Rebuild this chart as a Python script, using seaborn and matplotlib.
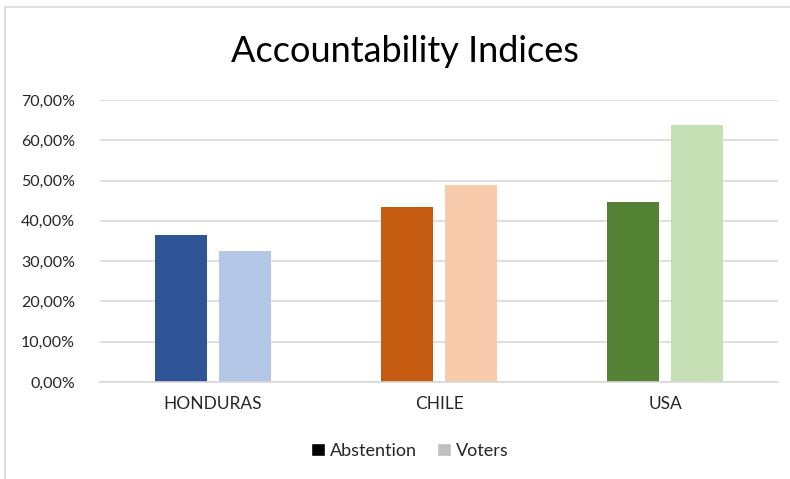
import pandas as pd
import matplotlib
matplotlib.use("Agg")
import matplotlib.pyplot as plt
from matplotlib.patches import Patch, Rectangle
from matplotlib.ticker import FuncFormatter, MultipleLocator
import seaborn as sns

# data
countries = ["HONDURAS", "CHILE", "USA"]
abstention = [0.364, 0.435, 0.446]
voters = [0.325, 0.489, 0.638]
series = ["Abstention", "Voters"]

# bar colours per country (dark = abstention, light = voters)
dark_colors = ["#2F5597", "#C55A11", "#548235"]
light_colors = ["#B4C7E7", "#F8CBAD", "#C5E0B4"]

df = pd.DataFrame({
    "country": countries * 2,
    "value": abstention + voters,
    "series": [series[0]] * 3 + [series[1]] * 3,
})

sns.set_style("white")
plt.rcParams["font.family"] = ["Lato", "DejaVu Sans"]

fig = plt.figure(figsize=(7.9, 4.79), dpi=100)
ax = fig.add_axes([100 / 790, 1 - 382 / 479, 678 / 790, 282 / 479])

sns.barplot(data=df, x="country", y="value", hue="series", hue_order=series,
            width=0.57, gap=0.19, legend=False, ax=ax)

# recolour each bar
for bar, c in zip(ax.containers[0], dark_colors):
    bar.set_facecolor(c)
    bar.set_edgecolor("none")
for bar, c in zip(ax.containers[1], light_colors):
    bar.set_facecolor(c)
    bar.set_edgecolor("none")

ax.set_ylim(0, 0.7)
ax.set_xlim(-0.5, 2.5)
ax.yaxis.set_major_locator(MultipleLocator(0.1))
ax.yaxis.set_major_formatter(FuncFormatter(lambda v, p: f"{v*100:.2f}%".replace(".", ",")))
ax.grid(axis="y", color="#D9D9D9", linewidth=1.2)
ax.set_axisbelow(True)
for s in ["top", "right", "left"]:
    ax.spines[s].set_visible(False)
ax.spines["bottom"].set_color("#D9D9D9")
ax.spines["bottom"].set_linewidth(1.2)
ax.tick_params(axis="both", length=0, labelsize=11.5, colors="#262626")
ax.tick_params(axis="x", labelsize=12.5, pad=10)
ax.tick_params(axis="y", pad=18)
ax.set_xlabel("")
ax.set_ylabel("")

fig.suptitle("Accountability Indices", x=405 / 790, y=1 - 51 / 479, va="center",
             fontsize=26, color="black")

handles = [Patch(facecolor="black", label="Abstention"),
           Patch(facecolor="#BFBFBF", label="Voters")]
fig.legend(handles=handles, loc="center", bbox_to_anchor=(410 / 790, 1 - 451 / 479),
           ncol=2, frameon=False, fontsize=13, handlelength=0.75, handleheight=0.75,
           handletextpad=0.3, columnspacing=1.1, labelcolor="#262626")

# chart area border (cut at right and bottom)
fig.patches.append(Rectangle((5 / 790, -0.1), 1.2, 1 - 7 / 479 + 0.1,
                             transform=fig.transFigure, fill=False,
                             edgecolor="#D9D9D9", linewidth=1.2))

fig.savefig("out.png", dpi=100)
